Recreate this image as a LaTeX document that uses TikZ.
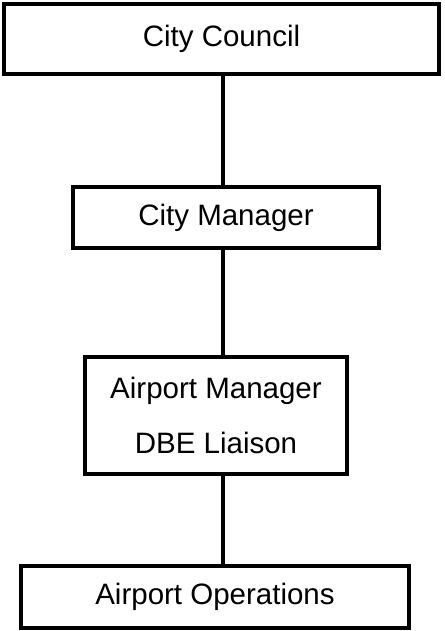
\documentclass[tikz,border=0pt]{standalone}
\usepackage{fontspec}
\setmainfont{Liberation Sans}

\begin{document}
\begin{tikzpicture}[
    x=1pt, y=1pt,
    orgbox/.style={
        draw,
        line width=3.6pt,
        align=center,
        inner sep=0pt,
        font=\fontsize{29.5pt}{55pt}\selectfont
    },
    link/.style={line width=3.4pt}
]
\useasboundingbox (0,0) rectangle (444,631);

\node (council) [orgbox, minimum width=435.4pt, minimum height=70.4pt]
    at (221.5,592) {City Council};

\node (manager) [orgbox, minimum width=306.4pt, minimum height=61.4pt]
    at (226,413.5) {City Manager};

\node (airport) [orgbox, minimum width=262.4pt, minimum height=117.4pt]
    at (216,215.5) {Airport Manager\\DBE Liaison};

\node (ops) [orgbox, minimum width=388.4pt, minimum height=62.4pt]
    at (215,34) {Airport Operations};

\coordinate (trunk) at (223,0);

\draw [link] (council.south -| trunk) -- (manager.north -| trunk);
\draw [link] (manager.south -| trunk) -- (airport.north -| trunk);
\draw [link] (airport.south -| trunk) -- (ops.north -| trunk);

\end{tikzpicture}
\end{document}
